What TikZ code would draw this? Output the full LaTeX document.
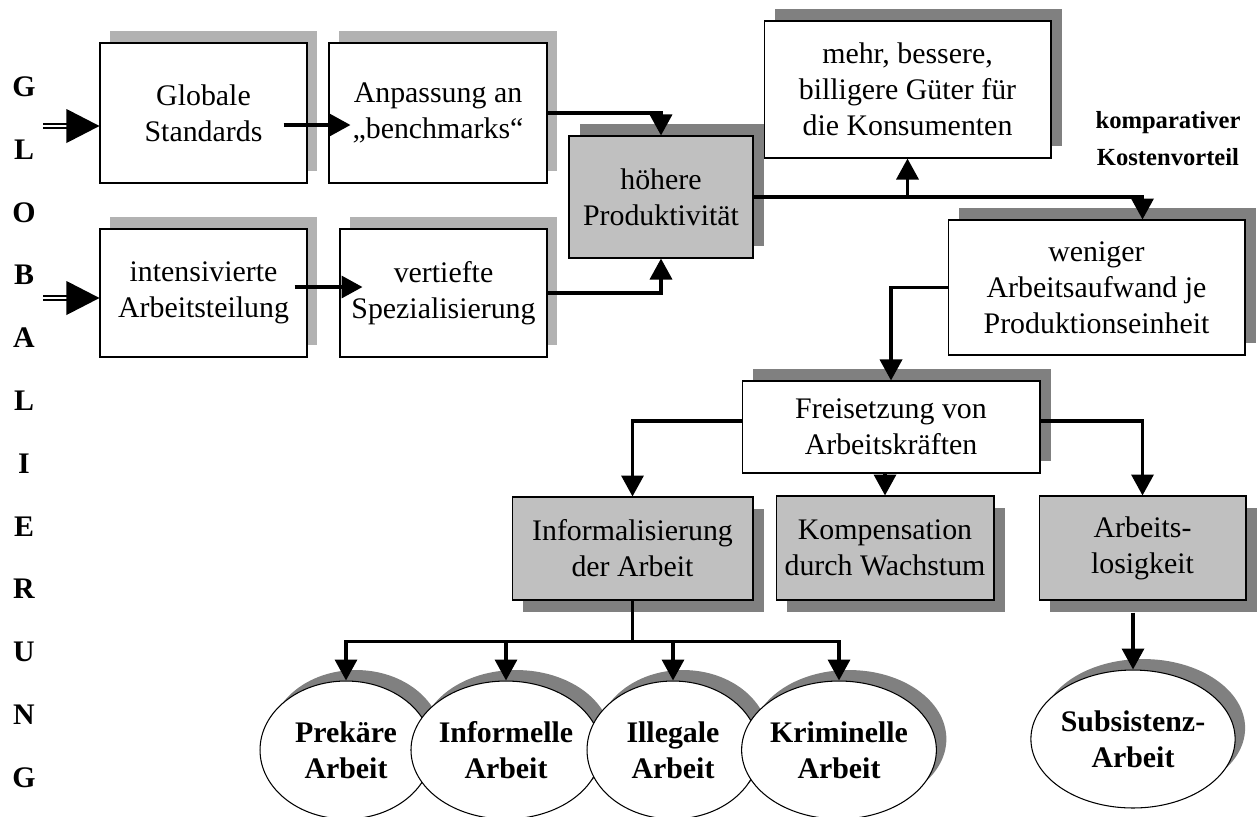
\documentclass[tikz,border=0pt]{standalone}
\usepackage{fontspec}
\setmainfont{Liberation Serif}
\usetikzlibrary{arrows.meta,calc,shadows,shapes.geometric}
\definecolor{boxgray}{HTML}{C0C0C0}
\definecolor{shadedark}{HTML}{808080}
\definecolor{shadelight}{HTML}{B2B2B2}

\begin{document}
\begin{tikzpicture}[x=0.02cm, y=-0.02cm,
    txt/.style={font=\fontsize{17}{20.5}\selectfont, align=center},
    box/.style={txt, draw, line width=0.6pt, fill=white, inner sep=2pt},
    lightup/.style={drop shadow={shadow xshift=0.2cm, shadow yshift=0.24cm, fill=shadelight, opacity=1}},
    darkup/.style={drop shadow={shadow xshift=0.22cm, shadow yshift=0.24cm, fill=shadedark, opacity=1}},
    darkdown/.style={drop shadow={shadow xshift=0.22cm, shadow yshift=-0.24cm, fill=shadedark, opacity=1}},
    oval/.style={ellipse, draw, line width=0.6pt, fill=white, minimum width=3.44cm, minimum height=2.76cm, inner sep=0pt,
      font=\bfseries\fontsize{17}{20.5}\selectfont, align=center,
      drop shadow={shadow xshift=0.2cm, shadow yshift=0.22cm, fill=shadedark, opacity=1}},
    arr/.style={line width=2pt, -{Triangle[length=0.42cm, width=0.44cm]}},
    dbl/.style={double, double distance=1.4pt, line width=1.1pt}]
    \useasboundingbox (0,0) rectangle (1257,816);

    % vertical word on the left
    \foreach \l [count=\i from 0] in {G,L,O,B,A,L,I,E,R,U,N,G}
      \node[font=\bfseries\fontsize{17}{20.5}\selectfont] (letter\i) at (24, {87+62.75*\i}) {\l};

    % upper chain
    \node[box, lightup, minimum width=4.14cm, minimum height=2.8cm] (glob) at (203.5,113) {Globale\\Standards};
    \node[box, lightup, minimum width=4.36cm, minimum height=2.8cm] (anp) at (438,113) {Anpassung an\\„benchmarks“};
    \node[box, lightup, minimum width=4.14cm, minimum height=2.56cm] (intens) at (203.5,293) {intensivierte\\Arbeitsteilung};
    \node[box, lightup, minimum width=4.14cm, minimum height=2.56cm] (vert) at (443.5,293) {vertiefte\\Spezialisierung};
    \node[box, darkup, fill=boxgray, minimum width=3.68cm, minimum height=2.44cm] (hoeh) at (661,197) {höhere\\Produktivität};
    \node[box, darkup, minimum width=5.74cm, minimum height=2.74cm] (mehr) at (907.5,89.5) {mehr, bessere,\\billigere Güter für\\die Konsumenten};
    \node[font=\bfseries\fontsize{14}{21}\selectfont, align=center] (vorteil) at (1168,139) {komparativer\\Kostenvorteil};
    \node[box, darkup, minimum width=5.94cm, minimum height=2.7cm] (wen) at (1096.5,287.5) {weniger\\Arbeitsaufwand je\\Produktionseinheit};
    \node[box, darkup, minimum width=5.96cm, minimum height=1.84cm] (frei) at (891,427) {Freisetzung von\\Arbeitskräften};

    % consequences
    \node[box, darkdown, fill=boxgray, minimum width=4.82cm, minimum height=2.06cm] (inf) at (632.5,548.5) {Informalisierung\\der Arbeit};
    \node[box, darkdown, fill=boxgray, minimum width=4.36cm, minimum height=2.08cm] (kbox) at (885,548) {Kompensation\\durch Wachstum};
    \node[box, darkdown, fill=boxgray, minimum width=4.14cm, minimum height=2.08cm] (arbl) at (1142.5,548) {Arbeits-\\losigkeit};

    \node[oval] (prek) at (346,750) {Prekäre\\Arbeit};
    \node[oval] (infm) at (506,750) {Informelle\\Arbeit};
    \node[oval] (illeg) at (673,750) {Illegale\\Arbeit};
    \node[oval] (krim) at (839,750) {Kriminelle\\Arbeit};
    \node[oval] (subs) at (1133,739) {Subsistenz-\\Arbeit};

    % inputs from the left
    \coordinate (in1) at (43,126);
    \coordinate (in2) at (43,298);
    \foreach \c/\n in {in1/glob,in2/intens} {
      \draw[dbl] (\c) -- ($(\c -| \n.west)+(-30,0)$);
      \fill (\c -| \n.west) -- ++(-33,-17) -- ++(0,34) -- cycle;
    }

    % connectors
    \draw[arr] ($(glob.east)+(-24,12)$) -- ($(anp.west)+(22,12)$);
    \draw[arr] ($(intens.east)+(-13,-6)$) -- ($(vert.west)+(23,-6)$);
    \draw[arr] (anp.east) -| (hoeh.north);
    \draw[arr] (vert.east) -| (hoeh.south);
    \coordinate (split) at (hoeh.east -| mehr.south);
    \draw[arr] (split) -- (mehr.south);
    \draw[arr] (hoeh.east) -- (split) -| ($(wen.north)+(46,0)$);
    \draw[arr] (wen.west) -| (frei.north);
    \draw[arr] ($(frei.west)+(0,-6)$) -| (inf.north);
    \draw[arr] ($(frei.east)+(0,-6)$) -| (arbl.north);
    \draw[arr] (kbox.north |- frei.south) -- (kbox.north);
    \draw[line width=2pt] (inf.south) -- ++(0,41) coordinate (bus);
    \foreach \e in {prek,infm,illeg,krim}
      \draw[arr] (bus) -| (\e.north);
    \draw[arr] ([yshift=-0.24cm]subs.north |- arbl.south) -- (subs.north);
\end{tikzpicture}
\end{document}
